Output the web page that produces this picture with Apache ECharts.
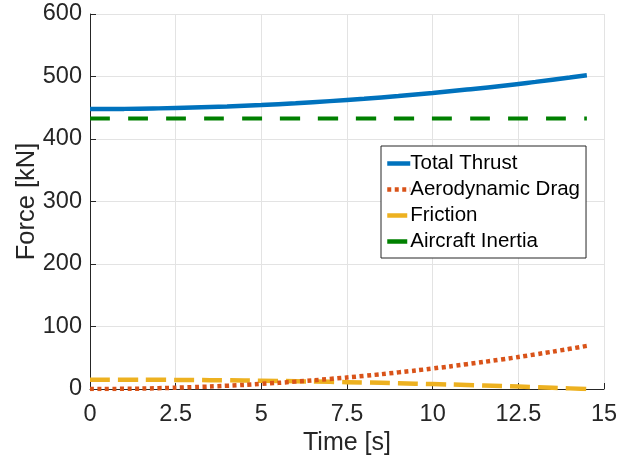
<!DOCTYPE html>
<html>
<head>
<meta charset="utf-8">
<script src="https://cdn.jsdelivr.net/npm/echarts@6/dist/echarts.min.js"></script>
<style>html,body{margin:0;padding:0;background:#fff;}#c{width:626px;height:460px;}</style>
</head>
<body>
<div id="c"></div>
<script>
const time = [0,1,2,3,4,5,6,7,8,9,10,11,12,13,14,14.5];
const totalThrust = [448.0,448.2,449.0,450.4,452.1,454.4,457.2,460.6,464.4,468.8,473.7,479.1,484.9,491.4,498.3,502.0];
const aeroDrag = [0,0.3,1.3,3.0,5.2,8.2,11.8,16.1,21.0,26.6,32.8,39.7,47.2,55.4,64.3,69.0];
const friction = [15,14.9,14.7,14.4,13.9,13.2,12.4,11.5,10.4,9.2,7.9,6.4,4.7,3.0,1.0,0.0];
const inertia = [433,433,433,433,433,433,433,433,433,433,433,433,433,433,433,433];
const xTicks = [0,2.5,5,7.5,10,12.5,15];
const yTicks = [0,100,200,300,400,500,600];
const names = ['Total Thrust','Aerodynamic Drag','Friction','Aircraft Inertia'];

const pair = (ys) => time.map((t,i)=>[t, ys[i]]);
const font = 'Liberation Sans, Arial, Helvetica, sans-serif';
const chart = echarts.init(document.getElementById('c'));
chart.setOption({
  animation:false,
  textStyle:{fontFamily:font},
  grid:{left:90,right:22,top:14,bottom:71,containLabel:false,outerBoundsMode:'none'},
  legend:{
    data:names,
    orient:'vertical',
    left:381, top:146,
    backgroundColor:'#fff',
    borderColor:'#262626', borderWidth:1,
    padding:[7,6,6,4],
    itemGap:5,
    itemWidth:23, itemHeight:20.5,
    itemStyle:{opacity:0},
    lineStyle:{width:4.5},
    textStyle:{fontSize:20.5,color:'#000',fontFamily:font,padding:[0,0,0,-5]}
  },
  xAxis:{
    type:'value', min:xTicks[0], max:xTicks[xTicks.length-1], interval:2.5,
    name:'Time [s]', nameLocation:'middle', nameGap:42, nameMoveOverlap:false,
    nameTextStyle:{fontSize:25,color:'#262626'},
    axisLine:{show:true,onZero:false,lineStyle:{color:'#262626',width:1}},
    axisTick:{show:true,inside:true,length:6,lineStyle:{color:'#262626'}},
    axisLabel:{fontSize:23.5,color:'#262626',margin:14,formatter:v=>String(v)},
    splitLine:{show:true,lineStyle:{color:'#e3e3e3',width:1}}
  },
  yAxis:{
    type:'value', min:yTicks[0], max:yTicks[yTicks.length-1], interval:100,
    name:'Force [kN]', nameLocation:'middle', nameGap:50, nameMoveOverlap:false,
    nameTextStyle:{fontSize:25.5,color:'#262626'},
    axisLine:{show:true,onZero:false,lineStyle:{color:'#262626',width:1}},
    axisTick:{show:true,inside:true,length:6,lineStyle:{color:'#262626'}},
    axisLabel:{fontSize:23.5,color:'#262626',margin:8},
    splitLine:{show:true,lineStyle:{color:'#e3e3e3',width:1}}
  },
  series:[
    {name:names[0],type:'line',data:pair(totalThrust),smooth:true,symbol:'none',
     lineStyle:{color:'#0072BD',width:4.5,type:'solid'},itemStyle:{color:'#0072BD'},z:4},
    {name:names[1],type:'line',data:pair(aeroDrag),smooth:true,symbol:'none',
     lineStyle:{color:'#D95319',width:4.5,type:[4,3.5]},itemStyle:{color:'#D95319'},z:3},
    {name:names[2],type:'line',data:pair(friction),smooth:true,symbol:'none',
     lineStyle:{color:'#EDB120',width:4.5,type:[20,8]},itemStyle:{color:'#EDB120'},z:2},
    {name:names[3],type:'line',data:pair(inertia),smooth:true,symbol:'none',
     lineStyle:{color:'#008000',width:4,type:[20,18]},itemStyle:{color:'#008000'},z:1}
  ]
});
</script>
</body>
</html>
